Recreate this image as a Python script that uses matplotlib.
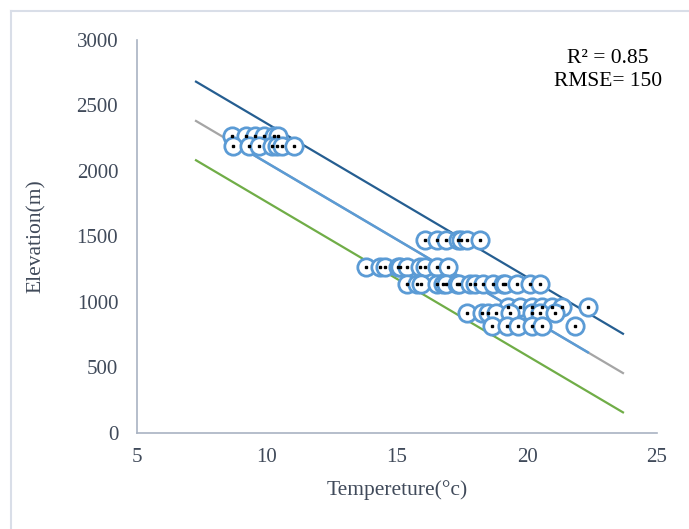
import matplotlib.pyplot as plt
import numpy as np
from matplotlib.lines import Line2D

# Datos: temperatura (°C) y elevacion (m) por fila
temp_2270 = [8.66, 9.2, 9.55, 9.9, 10.28, 10.43]
temp_2190 = [8.7, 9.32, 9.7, 10.2, 10.4, 10.59, 11.05]
temp_1470 = [16.06, 16.52, 16.9, 17.33, 17.45, 17.68, 18.18]
temp_1265 = [13.82, 14.33, 14.52, 15.02, 15.1, 15.4, 15.87, 16.06, 16.52, 16.98]
temp_1140 = [15.37, 15.75, 15.94, 16.52, 16.75, 16.9, 17.29, 17.4, 17.79, 17.99,
             18.29, 18.68, 19.07, 19.14, 19.6, 20.1, 20.49]
temp_960 = [19.26, 19.72, 20.18, 20.57, 20.95, 21.34, 22.34]
temp_915 = [17.68, 18.26, 18.49, 18.8, 19.34, 20.18, 20.49, 21.07]
temp_815 = [18.64, 19.22, 19.64, 20.18, 20.57, 21.84]

filas = [(temp_2270, 2270), (temp_2190, 2190), (temp_1470, 1470), (temp_1265, 1265),
         (temp_1140, 1140), (temp_960, 960), (temp_915, 915), (temp_815, 815)]

# Recta de regresion y banda de +/- RMSE
pendiente = -117.2
intercepto = 3234
rmse = 300
rango_tendencia = [7.27, 23.69]

x_ticks = [5, 10, 15, 20, 25]
y_ticks = [0, 500, 1000, 1500, 2000, 2500, 3000]

plt.rcParams['font.family'] = ['Liberation Serif', 'DejaVu Serif']

temps = np.concatenate([np.array(t, dtype=float) for t, _ in filas])
elevs = np.concatenate([np.full(len(t), e, dtype=float) for t, e in filas])

fig = plt.figure(figsize=(6.89, 5.29), dpi=100)
ax = fig.add_axes([0.1988, 0.1815, 0.7548, 0.7429])

xt = np.array(rango_tendencia)
ax.plot(xt, intercepto + pendiente * xt, color='#A5A5A5', lw=1.6, zorder=2)
xd = np.array([temps.min(), temps.max()])
ax.plot(xd, intercepto + pendiente * xd, color='#5B9BD5', lw=1.8, zorder=3)
ax.plot(xt, intercepto + pendiente * xt - rmse, color='#70AD47', lw=1.6, zorder=2)
ax.plot(xt, intercepto + pendiente * xt + rmse, color='#255E91', lw=1.6, zorder=2)

ax.plot(temps, elevs, 'o', ms=12.5, mfc='white', mec='#5B9BD5', mew=2.0, zorder=4)
ax.plot(temps, elevs, 's', ms=1.6, color='black', zorder=5)

ax.set_xlim(5, 25)
ax.set_ylim(0, 3000)
ax.set_xticks(x_ticks)
ax.set_yticks(y_ticks)
ax.tick_params(length=0, labelsize=15, colors='#404A5A')
ax.tick_params(axis='x', pad=11)
ax.tick_params(axis='y', pad=13.5)

for s in ['top', 'right']:
    ax.spines[s].set_visible(False)
for s in ['left', 'bottom']:
    ax.spines[s].set_color('#A9B3C2')
    ax.spines[s].set_linewidth(1.2)

ax.set_xlabel('Tempereture(°c)', fontsize=15.5, color='#404A5A', labelpad=9)
ax.set_ylabel('Elevation(m)', fontsize=15.5, color='#404A5A', labelpad=22)

fig.text(0.882, 0.89, 'R² = 0.85', fontsize=15.5, ha='center', va='center', color='black')
fig.text(0.882, 0.845, 'RMSE= 150', fontsize=15.5, ha='center', va='center', color='black')

# marco exterior (solo izquierda y arriba visibles)
fig.add_artist(Line2D([0.016, 0.016], [0.0, 0.979], color='#D9DEE8', lw=1.5))
fig.add_artist(Line2D([0.016, 1.0], [0.979, 0.979], color='#D9DEE8', lw=1.5))

fig.savefig('out.png', dpi=100)
